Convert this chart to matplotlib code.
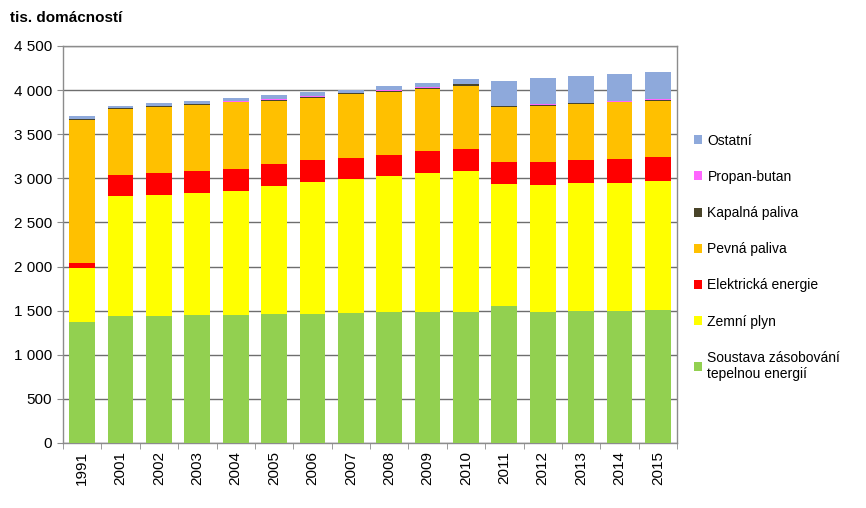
import matplotlib.pyplot as plt
import numpy as np

plt.rcParams["font.family"] = ["Liberation Sans", "DejaVu Sans"]

years = ["1991", "2001", "2002", "2003", "2004", "2005", "2006", "2007",
         "2008", "2009", "2010", "2011", "2012", "2013", "2014", "2015"]

# tis. domácností podle zdroje vytápění
soustava = [1370, 1445, 1445, 1450, 1455, 1460, 1465, 1475, 1480, 1480, 1490, 1555, 1490, 1495, 1500, 1505]
zemni_plyn = [611, 1355, 1370, 1384, 1402, 1450, 1494, 1520, 1547, 1577, 1594, 1378, 1431, 1449, 1452, 1466]
elektricka = [56, 242, 246, 250, 253, 249, 246, 240, 242, 257, 253, 253, 265, 261, 268, 275]
pevna = [1629, 748, 752, 752, 752, 714, 702, 718, 714, 699, 714, 620, 635, 635, 642, 631]
kapalna = [5, 8, 8, 8, 8, 20, 20, 15, 12, 15, 15, 12, 8, 10, 8, 12]
propan = [2, 2, 2, 2, 2, 2, 2, 2, 3, 3, 3, 6, 10, 6, 10, 6]
ostatni = [30, 25, 36, 36, 35, 46, 46, 36, 53, 51, 54, 276, 295, 305, 304, 311]

series = [
    ("Soustava zásobování\ntepelnou energií", soustava, "#92D050"),
    ("Zemní plyn", zemni_plyn, "#FFFF00"),
    ("Elektrická energie", elektricka, "#FF0000"),
    ("Pevná paliva", pevna, "#FFC000"),
    ("Kapalná paliva", kapalna, "#494429"),
    ("Propan-butan", propan, "#FF66FF"),
    ("Ostatní", ostatni, "#8EA9DB"),
]

fig = plt.figure(figsize=(8.66, 5.08), dpi=100)
ax = fig.add_axes([63 / 866, 65 / 508, 614 / 866, 397 / 508])

x = np.arange(len(years))
bottom = np.zeros(len(years))
handles = []
for label, vals, color in series:
    b = ax.bar(x, vals, bottom=bottom, width=0.67, color=color, label=label, zorder=3)
    bottom += np.array(vals)
    handles.append(b)

ax.set_xlim(-0.5, len(years) - 0.5)
ax.set_ylim(0, 4500)
ax.set_yticks(np.arange(0, 4501, 500))
ax.set_yticklabels([f"{v:,}".replace(",", " ") for v in range(0, 4501, 500)], fontsize=11)
ax.set_xticks(x)
ax.set_xticklabels(years, rotation=90, fontsize=11)
ax.set_xticks(np.arange(-0.5, len(years)), minor=True)
ax.tick_params(axis="x", which="major", length=0, pad=6)
ax.tick_params(axis="x", which="minor", length=4, color="#8C8C8C")
ax.tick_params(axis="y", length=4, color="#8C8C8C", pad=4)
ax.grid(axis="y", color="#6E6E6E", linewidth=1, zorder=0)
for s in ax.spines.values():
    s.set_color("#8C8C8C")
    s.set_linewidth(1)

fig.text(10 / 866, 1 - 18 / 508, "tis. domácností", fontsize=11, fontweight="bold",
         va="center", ha="left")

fig.legend(
    handles[::-1],
    [s[0] for s in series][::-1],
    loc="upper left",
    bbox_to_anchor=(688 / 866, 1 - 128 / 508),
    frameon=False,
    fontsize=10,
    handlelength=0.6,
    handleheight=0.6,
    handletextpad=0.4,
    labelspacing=1.6,
    borderaxespad=0,
)

fig.savefig("out.png", dpi=100)
